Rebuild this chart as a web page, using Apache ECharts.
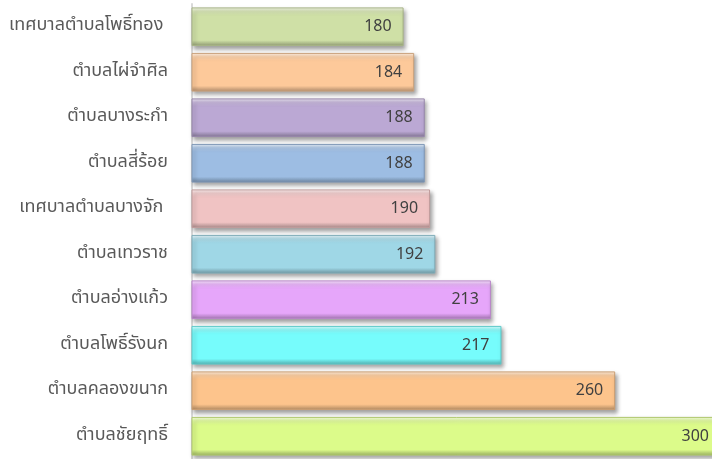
<!DOCTYPE html>
<html>
<head>
<meta charset="utf-8">
<script src="https://cdn.jsdelivr.net/npm/echarts@6/dist/echarts.min.js"></script>
<style>html,body{margin:0;padding:0;background:#fff;overflow:hidden;width:712px;height:459px;}#c{width:721px;height:459px;}</style>
</head>
<body>
<div id="c"></div>
<script>
// top-to-bottom order
var categories = ['เทศบาลตำบลโพธิ์ทอง ', 'ตำบลไผ่จำศิล', 'ตำบลบางระกำ', 'ตำบลสี่ร้อย', 'เทศบาลตำบลบางจัก ', 'ตำบลเทวราช', 'ตำบลอ่างแก้ว', 'ตำบลโพธิ์รังนก', 'ตำบลคลองขนาก', 'ตำบลชัยฤทธิ์'];
var values = [180, 184, 188, 188, 190, 192, 213, 217, 260, 300];
var barColors = ['#cfe0a6', '#fdc99a', '#bba8d4', '#9dbde3', '#f0c3c3', '#9fd7e6', '#e6a6fa', '#76fcfc', '#fdc48c', '#dcfb8a'];
var axisMin = 100, axisMax = 300;

function shade(hex, f) {
  var r = parseInt(hex.substr(1,2),16), g = parseInt(hex.substr(3,2),16), b = parseInt(hex.substr(5,2),16);
  function c(v){ v = f >= 0 ? v + (255 - v) * f : v * (1 + f); return Math.max(0, Math.min(255, Math.round(v))); }
  return 'rgb(' + c(r) + ',' + c(g) + ',' + c(b) + ')';
}

var chart = echarts.init(document.getElementById('c'), null, {renderer: 'canvas'});
var data = values.map(function (v, i) {
  var base = barColors[i];
  return {
    value: v,
    itemStyle: {
      color: new echarts.graphic.LinearGradient(0, 0, 0, 1, [
        {offset: 0, color: shade(base, 0.75)},
        {offset: 0.1, color: shade(base, 0.2)},
        {offset: 0.2, color: base},
        {offset: 0.85, color: base},
        {offset: 0.92, color: shade(base, -0.15)},
        {offset: 1, color: shade(base, -0.3)}
      ]),
      borderColor: shade(base, -0.2),
      borderWidth: 1,
      shadowColor: 'rgba(0,0,0,0.35)',
      shadowBlur: 4,
      shadowOffsetX: 2,
      shadowOffsetY: 3
    }
  };
});

chart.setOption({
  animation: false,
  backgroundColor: '#ffffff',
  grid: {left: 192, right: 0, top: 4, bottom: 0, containLabel: false},
  xAxis: {
    type: 'value', min: axisMin, max: axisMax,
    show: false
  },
  yAxis: {
    type: 'category', data: categories, inverse: true,
    axisLine: {show: true, lineStyle: {color: '#d9d9d9', width: 2}},
    axisTick: {show: false},
    axisLabel: {
      color: '#595959', fontSize: 18, margin: 24,
      fontFamily: 'Tahoma, "Noto Sans Thai", "Noto Sans", sans-serif'
    },
    splitLine: {show: false}
  },
  series: [{
    type: 'bar',
    data: data,
    barCategoryGap: '15%',
    label: {
      show: true, position: 'insideRight', distance: 12,
      color: '#404040', fontSize: 16,
      fontFamily: '"Noto Sans", "DejaVu Sans", sans-serif'
    }
  }]
});
</script>
</body>
</html>
